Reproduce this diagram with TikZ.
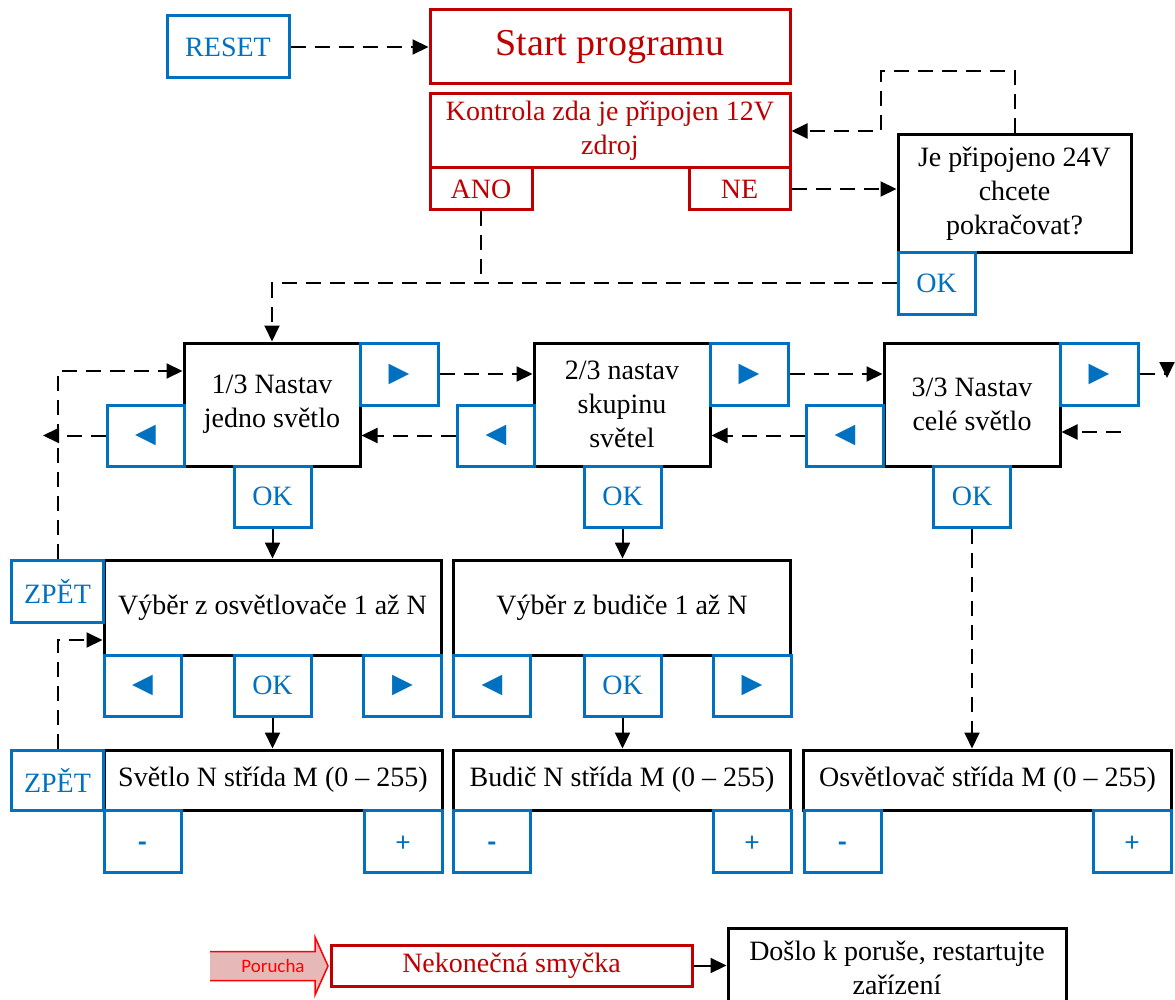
\documentclass[tikz,border=0pt]{standalone}
\usepackage{fontspec}
\setmainfont{Liberation Serif}
\newfontfamily\symfont{DejaVu Sans}
\newfontfamily\calfont{Carlito}
\usetikzlibrary{arrows.meta}

\definecolor{cervena}{HTML}{C00000}
\definecolor{jasnacervena}{HTML}{FF0000}
\definecolor{ruzova}{HTML}{E6B9B8}
\definecolor{modra}{HTML}{0070C0}

\newcommand{\boxfont}{\fontsize{28}{34}\selectfont}
\newcommand{\titlefont}{\fontsize{38}{44}\selectfont}
\newcommand{\vpravo}{{\symfont\fontsize{27}{27}\selectfont ▶}}
\newcommand{\vlevo}{{\symfont\fontsize{27}{27}\selectfont ◀}}
\newcommand{\znak}[1]{\raisebox{0pt}[20pt][0pt]{\calfont\fontsize{28}{28}\selectfont #1}}

\begin{document}
\begin{tikzpicture}[x=1pt, y=-1pt,
        blok/.style={draw=black, line width=3pt, fill=white, inner sep=0pt, align=center, font=\boxfont},
        tlac/.style={draw=modra, line width=3pt, fill=white, inner sep=0pt, text=modra, font=\boxfont, minimum width=77pt, minimum height=61pt},
        cbox/.style={draw=cervena, line width=3pt, fill=white, inner sep=0pt, text=cervena, align=center, font=\boxfont},
        car/.style={line width=2pt, dash pattern=on 15pt off 9pt},
        plna/.style={line width=2pt},
        sip/.style={-{Triangle[length=16pt,width=15pt]}}]
        \useasboundingbox ( 0, 0 ) rectangle ( 1175, 1000 );

        % start a kontrola zdroje
        \node [tlac, minimum width=122pt, minimum height=62pt] (reset) at ( 228, 47 ) {RESET};
        \node [cbox, minimum width=360pt, minimum height=74pt, font=\titlefont] (start) at ( 610, 47 ) {Start programu};
        \node [cbox, minimum width=360pt, minimum height=74pt] (kontrola) at ( 610, 131 ) {Kontrola zda je připojen 12V\\zdroj};
        \node [cbox, minimum width=102pt, minimum height=42pt] (ano) at ( 481, 189 ) {ANO};
        \node [cbox, minimum width=101pt, minimum height=42pt] (ne) at ( 739.5, 189 ) {NE};
        \node [blok, minimum width=233pt, minimum height=118pt] (dotaz) at ( 1014.5, 194 ) {Je připojeno 24V\\chcete\\pokračovat?};
        \node [tlac] (okdotaz) at ( 936.5, 283.5 ) {OK};

        % režimy
        \node [blok, minimum width=176pt, minimum height=123pt] (rezim1) at ( 272, 404.5 ) {1/3 Nastav\\jedno světlo};
        \node [blok, minimum width=176pt, minimum height=123pt] (rezim2) at ( 622, 404.5 ) {2/3 nastav\\skupinu\\světel};
        \node [blok, minimum width=176pt, minimum height=123pt] (rezim3) at ( 972, 404.5 ) {3/3 Nastav\\celé světlo};
        \node [tlac, minimum width=78pt, minimum height=62pt] (vpravo1) at ( 399, 374 ) {\vpravo};
        \node [tlac, minimum width=78pt, minimum height=62pt] (vpravo2) at ( 749, 374 ) {\vpravo};
        \node [tlac, minimum width=78pt, minimum height=62pt] (vpravo3) at ( 1099, 374 ) {\vpravo};
        \node [tlac] (vlevo1) at ( 145.5, 435.5 ) {\vlevo};
        \node [tlac] (vlevo2) at ( 496, 435.5 ) {\vlevo};
        \node [tlac] (vlevo3) at ( 845, 435.5 ) {\vlevo};
        \node [tlac] (ok1) at ( 272.5, 496.5 ) {OK};
        \node [tlac] (ok2) at ( 622.5, 496.5 ) {OK};
        \node [tlac] (ok3) at ( 972, 496.5 ) {OK};

        % výběr
        \node [blok, minimum width=337pt, minimum height=95pt] (vyber1) at ( 272.5, 607.5 ) {Výběr z osvětlovače 1 až N};
        \node [blok, minimum width=337pt, minimum height=95pt] (vyber2) at ( 622, 607.5 ) {Výběr z budiče 1 až N};
        \node [tlac, minimum width=92pt, minimum height=62pt] (zpet1) at ( 57.5, 591 ) {ZPĚT};
        \node [tlac] (vlevov1) at ( 142.5, 685.5 ) {\vlevo};
        \node [tlac] (okv1) at ( 272.5, 685.5 ) {OK};
        \node [tlac, minimum width=78pt] (vpravov1) at ( 402.5, 685.5 ) {\vpravo};
        \node [tlac] (vlevov2) at ( 492, 685.5 ) {\vlevo};
        \node [tlac] (okv2) at ( 622.5, 685.5 ) {OK};
        \node [tlac, minimum width=78pt] (vpravov2) at ( 752, 685.5 ) {\vpravo};

        % střída
        \node [blok, minimum width=338pt, minimum height=60pt] (strida1) at ( 273, 780 ) {Světlo N střída M (0 – 255)};
        \node [blok, minimum width=337pt, minimum height=60pt] (strida2) at ( 622, 780 ) {Budič N střída M (0 – 255)};
        \node [blok, minimum width=368pt, minimum height=60pt] (strida3) at ( 987.5, 780 ) {Osvětlovač střída M (0 – 255)};
        \node [tlac, minimum width=92pt, minimum height=60pt] (zpet2) at ( 57.5, 780 ) {ZPĚT};
        \node [tlac, minimum height=62pt] (minus1) at ( 142.5, 841 ) {\znak{\bfseries -}};
        \node [tlac, minimum width=78pt, minimum height=62pt] (plus1) at ( 403, 841 ) {\znak{+}};
        \node [tlac, minimum height=62pt] (minus2) at ( 492, 841 ) {\znak{\bfseries -}};
        \node [tlac, minimum width=78pt, minimum height=62pt] (plus2) at ( 752, 841 ) {\znak{+}};
        \node [tlac, minimum height=62pt] (minus3) at ( 842.5, 841 ) {\znak{\bfseries -}};
        \node [tlac, minimum width=78pt, minimum height=62pt] (plus3) at ( 1132, 841 ) {\znak{+}};

        % porucha
        \fill [ruzova] ( 210, 951.5 ) -- ( 315, 951.5 ) -- ( 315, 937 ) -- ( 328, 966 ) -- ( 315, 995 ) -- ( 315, 980.5 ) -- ( 210, 980.5 ) -- cycle;
        \draw [jasnacervena, line width=1.5pt] ( 210, 951.5 ) -- ( 315, 951.5 ) -- ( 315, 937 ) -- ( 328, 966 ) -- ( 315, 995 ) -- ( 315, 980.5 ) -- ( 210, 980.5 );
        \node [text=jasnacervena, font=\calfont\fontsize{19}{19}\selectfont] (poruchatxt) at ( 273, 966 ) {Porucha};
        \node [cbox, minimum width=361pt, minimum height=41pt] (smycka) at ( 511.5, 965.5 ) {Nekonečná smyčka};
        \node [blok, minimum width=338pt, minimum height=80pt] (hlaseni) at ( 897, 968 ) {Došlo k poruše, restartujte\\zařízení};

        % spojnice
        \coordinate (navrat) at ( 881, 71 );
        \coordinate (ven) at ( 43, 435.5 );
        \coordinate (zprava) at ( 1121, 432 );
        \coordinate (dolu) at ( 1167, 378 );

        \draw [car, sip] (reset) -- (start);
        \draw [car, sip] (ne.east) -- (ne.east -| dotaz.west);
        \draw [car, sip] (dotaz.north) |- (navrat) |- (kontrola.east);
        \draw [car] (ano.south) -- (ano.south |- okdotaz.west);
        \draw [car, sip] (okdotaz.west) -| (rezim1.north);

        \draw [car, sip] (vpravo1.east) -- (vpravo1.east -| rezim2.west);
        \draw [car, sip] (vpravo2.east) -- (vpravo2.east -| rezim3.west);
        \draw [car, sip] (vpravo3.east) -| (dolu);
        \draw [car, sip] (vlevo1.west) -- (ven);
        \draw [car, sip] (vlevo2.west) -- (vlevo2.west -| rezim1.east);
        \draw [car, sip] (vlevo3.west) -- (vlevo3.west -| rezim2.east);
        \draw [car, sip] (zprava) -- (zprava -| rezim3.east);
        \draw [car, sip] (zpet1.north) |- ([yshift=33.5pt]rezim1.west);
        \draw [car, sip] (zpet2.north) |- ([yshift=-32.5pt]vyber1.west);

        \draw [plna, sip] (ok1) -- (ok1 |- vyber1.north);
        \draw [plna, sip] (ok2) -- (ok2 |- vyber2.north);
        \draw [plna, sip] (okv1) -- (okv1 |- strida1.north);
        \draw [plna, sip] (okv2) -- (okv2 |- strida2.north);
        \draw [car, sip] (ok3) -- (ok3 |- strida3.north);
        \draw [plna, sip] (smycka.east) -- (smycka.east -| hlaseni.west);
\end{tikzpicture}
\end{document}
